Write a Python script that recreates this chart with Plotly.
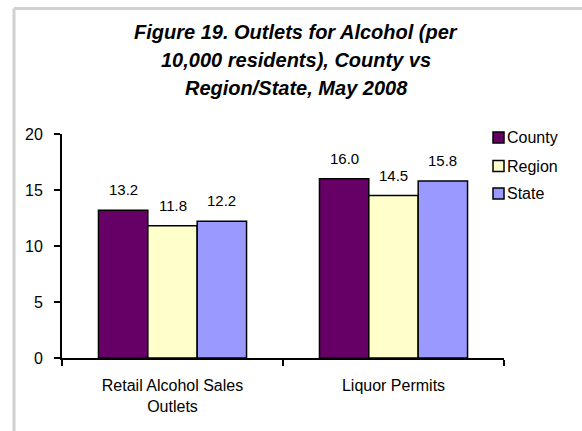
import plotly.graph_objects as go

# Chart data
categories = ["Retail Alcohol Sales<br>Outlets", "Liquor Permits"]
series_names = ["County", "Region", "State"]
county = [13.2, 16.0]
region = [11.8, 14.5]
state = [12.2, 15.8]
y_ticks = [0, 5, 10, 15, 20]

colors = ["#660066", "#FFFFCC", "#9999FF"]
values = [county, region, state]

W, H = 582, 431
L, R, T, B = 62, 78, 134, 73
PW, PH = W - L - R, H - T - B
BARGAP = 0.33


def px_x(px):
    return (px - L) / PW


def px_y(py):
    return (H - B - py) / PH


FONT = "Liberation Sans, Arial, sans-serif"

fig = go.Figure()
for name, vals, col in zip(series_names, values, colors):
    fig.add_trace(go.Bar(
        x=categories, y=vals, name=name,
        marker=dict(color=col, line=dict(color="black", width=1.5)),
    ))

# Value labels above each bar
bar_px = PW / len(categories) * (1 - BARGAP) / len(series_names)
for i, vals in enumerate(values):
    for cat, v in zip(categories, vals):
        fig.add_annotation(
            x=cat, y=v, text=f"{v:.1f}", showarrow=False,
            xanchor="center", yanchor="bottom",
            xshift=(i - (len(series_names) - 1) / 2) * bar_px, yshift=10,
            font=dict(size=15, family=FONT, color="black"),
        )

# Title, three centred lines
title_lines = ["Figure 19. Outlets for Alcohol (per",
               "10,000 residents), County vs",
               "Region/State, May 2008"]
for line, py in zip(title_lines, [32, 60, 88]):
    fig.add_annotation(
        text=line, xref="paper", yref="paper", x=px_x(296), y=px_y(py),
        xanchor="center", yanchor="middle", showarrow=False,
        font=dict(size=20, family=FONT, color="black", weight="bold", style="italic"),
    )

# Legend drawn as swatches and labels
for name, col, py in zip(series_names, colors, [137.5, 166, 193.5]):
    fig.add_shape(type="rect", xref="paper", yref="paper",
                  x0=px_x(493), x1=px_x(504), y0=px_y(py + 5.5), y1=px_y(py - 5.5),
                  fillcolor=col, line=dict(color="black", width=1.5))
    fig.add_annotation(text=name, xref="paper", yref="paper", x=px_x(505), y=px_y(py),
                       xanchor="left", yanchor="middle", showarrow=False,
                       font=dict(size=16, family=FONT, color="black"))

# Light grey frame on the top and left
fig.add_shape(type="line", xref="paper", yref="paper",
              x0=px_x(14), x1=px_x(W + 5), y0=px_y(8.5), y1=px_y(8.5),
              line=dict(color="#d0d0d0", width=3))
fig.add_shape(type="line", xref="paper", yref="paper",
              x0=px_x(14), x1=px_x(14), y0=px_y(8.5), y1=px_y(H + 5),
              line=dict(color="#d0d0d0", width=3))

fig.update_layout(
    width=W, height=H,
    margin=dict(l=L, r=R, t=T, b=B, pad=0),
    paper_bgcolor="white", plot_bgcolor="white",
    barmode="group", bargap=BARGAP, bargroupgap=0,
    showlegend=False,
    font=dict(family=FONT, color="black"),
)
fig.update_xaxes(
    showline=True, linecolor="black", linewidth=2,
    ticks="outside", tickson="boundaries", ticklen=6, tickwidth=2, tickcolor="black",
    tickfont=dict(size=16), ticklabelstandoff=12, showgrid=False,
)
fig.update_yaxes(
    range=[0, 20], tickvals=y_ticks,
    showline=True, linecolor="black", linewidth=2,
    ticks="outside", ticklen=6, tickwidth=2, tickcolor="black",
    tickfont=dict(size=16), ticklabelstandoff=8, showgrid=False, zeroline=False,
)

fig.write_html("out.html")
